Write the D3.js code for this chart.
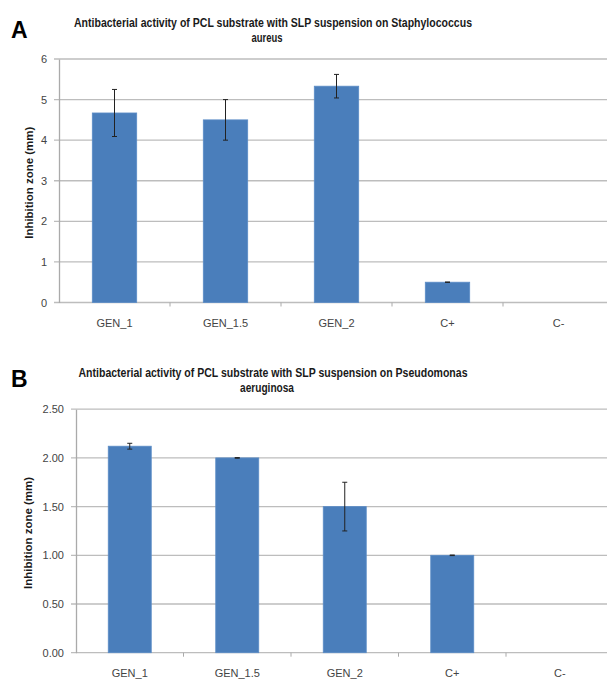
<!DOCTYPE html>
<html>
<head>
<meta charset="utf-8">
<script src="https://cdn.jsdelivr.net/npm/d3@7"></script>
<style>
  body { margin: 0; background: #fff; }
  svg { display: block; font-family: "Liberation Sans", Arial, sans-serif; }
</style>
</head>
<body>
<svg id="chart" width="607" height="679"></svg>
<script>
const categories = ["GEN_1", "GEN_1.5", "GEN_2", "C+", "C-"];

// panel A - Staphylococcus aureus
const staphMeans = [4.67, 4.5, 5.33, 0.5, 0];
const staphErrors = [0.58, 0.5, 0.29, 0.005, 0];
const staphTicks = [0, 1, 2, 3, 4, 5, 6];

// panel B - Pseudomonas aeruginosa
const pseudoMeans = [2.12, 2.0, 1.5, 1.0, 0];
const pseudoErrors = [0.03, 0.003, 0.25, 0.003, 0];
const pseudoTicks = [0, 0.5, 1.0, 1.5, 2.0, 2.5];

const svg = d3.select("#chart");

function panel(opts) {
  let g = svg.append("g");

  let x = d3.scaleBand()
    .domain(categories)
    .range([opts.left, opts.right])
    .paddingInner(0.6)
    .paddingOuter(0.3);

  let y = d3.scaleLinear()
    .domain([0, d3.max(opts.ticks)])
    .range([opts.bottom, opts.top]);

  // gridlines
  g.append("g")
    .selectAll("line")
    .data(opts.ticks)
    .join("line")
      .attr("x1", opts.left - 5)
      .attr("x2", opts.right)
      .attr("y1", d => y(d))
      .attr("y2", d => y(d))
      .attr("stroke", "#bdbdbd")
      .attr("stroke-width", 1.3);

  // y axis
  let yAxis = d3.axisLeft(y)
    .tickValues(opts.ticks)
    .tickFormat(opts.fmt)
    .tickSize(0)
    .tickPadding(12);

  g.append("g")
    .attr("transform", `translate(${opts.left},0)`)
    .call(yAxis)
    .call(a => a.select(".domain").attr("stroke", "#aaa").attr("stroke-width", 1.3))
    .call(a => a.selectAll("text")
      .attr("font-size", 11)
      .attr("fill", "#444")
      .attr("font-family", "Liberation Sans, Arial, sans-serif"));

  // x axis with ticks between categories
  let step = x.step();
  let bounds = categories.map((c, i) => opts.left + step * i);
  g.append("g")
    .selectAll("line")
    .data(bounds.slice(1))
    .join("line")
      .attr("x1", d => d).attr("x2", d => d)
      .attr("y1", opts.bottom).attr("y2", opts.bottom + 4)
      .attr("stroke", "#aaa");

  g.append("g")
    .selectAll("text")
    .data(categories)
    .join("text")
      .attr("x", d => x(d) + x.bandwidth() / 2)
      .attr("y", opts.bottom + 24)
      .attr("text-anchor", "middle")
      .attr("font-size", 11)
      .attr("fill", "#444")
      .text(d => d);

  // bars
  g.append("g")
    .selectAll("rect")
    .data(categories)
    .join("rect")
      .attr("x", d => x(d))
      .attr("width", x.bandwidth())
      .attr("y", (d, i) => y(opts.means[i]))
      .attr("height", (d, i) => y(0) - y(opts.means[i]))
      .attr("fill", "#4a7ebb")
      .attr("stroke", "#5b8cc6")
      .attr("stroke-width", 0.8);

  // error bars
  let eb = g.append("g")
    .selectAll("g")
    .data(categories.filter((c, i) => opts.means[i] > 0))
    .join("g")
      .attr("stroke", "#222")
      .attr("stroke-width", 1);

  let idx = d => categories.indexOf(d);
  let cx = d => x(d) + x.bandwidth() / 2;

  eb.append("line")
    .attr("x1", cx).attr("x2", cx)
    .attr("y1", d => y(opts.means[idx(d)] + opts.errors[idx(d)]))
    .attr("y2", d => y(opts.means[idx(d)] - opts.errors[idx(d)]));
  eb.append("line")
    .attr("x1", d => cx(d) - 2.5).attr("x2", d => cx(d) + 2.5)
    .attr("y1", d => y(opts.means[idx(d)] + opts.errors[idx(d)]))
    .attr("y2", d => y(opts.means[idx(d)] + opts.errors[idx(d)]));
  eb.append("line")
    .attr("x1", d => cx(d) - 2.5).attr("x2", d => cx(d) + 2.5)
    .attr("y1", d => y(opts.means[idx(d)] - opts.errors[idx(d)]))
    .attr("y2", d => y(opts.means[idx(d)] - opts.errors[idx(d)]));

  // titles
  let t = g.append("text")
    .attr("text-anchor", "middle")
    .attr("font-weight", "bold")
    .attr("font-size", 12.5)
    .attr("fill", "#1a1a1a");
  t.append("tspan")
    .attr("x", 273).attr("y", opts.titleY)
    .attr("textLength", opts.titleLen)
    .attr("lengthAdjust", "spacingAndGlyphs")
    .text(opts.title[0]);
  t.append("tspan")
    .attr("x", 267).attr("y", opts.titleY + 15)
    .attr("textLength", opts.title2Len)
    .attr("lengthAdjust", "spacingAndGlyphs")
    .text(opts.title[1]);

  // y label
  g.append("text")
    .attr("transform", `translate(${opts.labelX},${(opts.top + opts.bottom) / 2 + 2}) rotate(-90)`)
    .attr("text-anchor", "middle")
    .attr("font-weight", "bold")
    .attr("font-size", 11.5)
    .attr("fill", "#1a1a1a")
    .attr("textLength", 112)
    .attr("lengthAdjust", "spacingAndGlyphs")
    .text("Inhibition zone (mm)");

  // panel letter
  g.append("text")
    .attr("x", 11)
    .attr("y", opts.letterY)
    .attr("font-weight", "bold")
    .attr("font-size", 23)
    .attr("font-family", "Liberation Sans, Arial, sans-serif")
    .text(opts.letter);
}

panel({
  letter: "A", letterY: 38,
  title: ["Antibacterial activity of PCL substrate with SLP suspension on Staphylococcus", "aureus"],
  titleY: 27, titleLen: 398, title2Len: 31,
  left: 59, right: 614, top: 59, bottom: 302.5,
  labelX: 33,
  means: staphMeans, errors: staphErrors, ticks: staphTicks,
  fmt: d3.format("d")
});

panel({
  letter: "B", letterY: 387,
  title: ["Antibacterial activity of PCL substrate with SLP suspension on Pseudomonas", "aeruginosa"],
  titleY: 377, titleLen: 389, title2Len: 54,
  left: 76, right: 613.5, top: 409.2, bottom: 652.7,
  labelX: 32,
  means: pseudoMeans, errors: pseudoErrors, ticks: pseudoTicks,
  fmt: d3.format(".2f")
});
</script>
</body>
</html>
